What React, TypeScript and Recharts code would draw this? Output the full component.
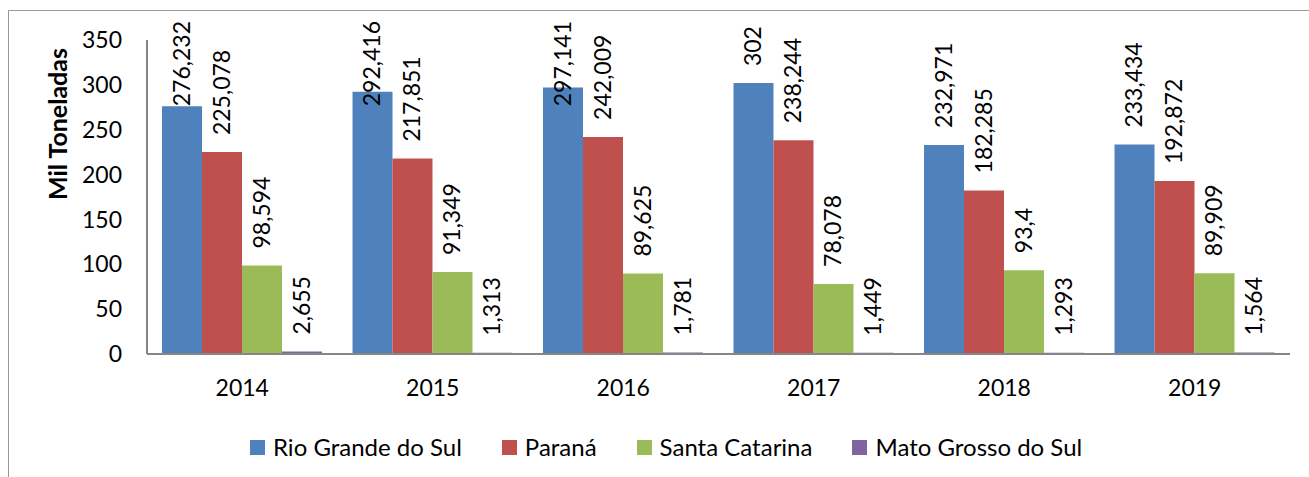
import { BarChart, Bar, XAxis, YAxis, LabelList } from 'recharts'

const YEARS = ['2014', '2015', '2016', '2017', '2018', '2019']
const RIO_GRANDE = [276.232, 292.416, 297.141, 302, 232.971, 233.434]
const PARANA = [225.078, 217.851, 242.009, 238.244, 182.285, 192.872]
const SANTA_CATARINA = [98.594, 91.349, 89.625, 78.078, 93.4, 89.909]
const MATO_GROSSO = [2.655, 1.313, 1.781, 1.449, 1.293, 1.564]
const Y_TICKS = [0, 50, 100, 150, 200, 250, 300, 350]

const SERIES = [
  { key: 'rs', name: 'Rio Grande do Sul', color: '#4F81BD', values: RIO_GRANDE },
  { key: 'pr', name: 'Paraná', color: '#C0504D', values: PARANA },
  { key: 'sc', name: 'Santa Catarina', color: '#9BBB59', values: SANTA_CATARINA },
  { key: 'ms', name: 'Mato Grosso do Sul', color: '#8064A2', values: MATO_GROSSO },
]

const FONT = 'Lato, "Open Sans", sans-serif'
const FONT_SIZE = 23
const PLOT_TOP = 21

const data = YEARS.map((year, i) => {
  const row: Record<string, string | number> = { year }
  SERIES.forEach((s) => {
    row[s.key] = s.values[i]
  })
  return row
})

const fmt = (v: number) => String(v).replace('.', ',')

let ctx: CanvasRenderingContext2D | null = null
function textWidth(text: string) {
  if (!ctx) ctx = document.createElement('canvas').getContext('2d')
  if (!ctx) return text.length * 12
  ctx.font = `${FONT_SIZE}px ${FONT}`
  return ctx.measureText(text).width
}

// rotated label above the bar, pushed down when it would leave the chart
function VerticalLabel(props: any) {
  const { x, y, width, value } = props
  const text = fmt(Number(value))
  const w = textWidth(text)
  const bottom = Math.max(Number(y) - 17, PLOT_TOP + w)
  const cx = Number(x) + Number(width) / 2 + 8
  return (
    <text
      x={cx}
      y={bottom}
      transform={`rotate(-90 ${cx} ${bottom})`}
      textAnchor="start"
      fontSize={FONT_SIZE}
      fontFamily={FONT}
      fill="#000"
    >
      {text}
    </text>
  )
}

function ChartLegend() {
  return (
    <div
      style={{
        position: 'absolute',
        left: 250,
        top: 430,
        display: 'flex',
        alignItems: 'center',
        fontFamily: FONT,
        fontSize: 24,
        lineHeight: '34px',
        color: '#000',
        whiteSpace: 'nowrap',
      }}
    >
      {SERIES.map((s) => (
        <div key={s.key} style={{ display: 'flex', alignItems: 'center', marginRight: 40 }}>
          <span style={{ width: 15, height: 15, background: s.color, marginRight: 8, display: 'inline-block' }} />
          <span>{s.name}</span>
        </div>
      ))}
    </div>
  )
}

export default function App() {
  return (
    <div style={{ position: 'absolute', left: 0, top: 0, width: 1309, height: 477, overflow: 'hidden', background: '#fff' }}>
      <div
        style={{
          position: 'absolute',
          left: 8,
          top: 10,
          width: 1400,
          height: 600,
          borderLeft: '1.5px solid #9a9a9a',
          borderTop: '1.5px solid #9a9a9a',
        }}
      />
      <BarChart
        width={1309}
        height={477}
        data={data}
        margin={{ top: 40, right: 19, bottom: 93, left: 0 }}
        barCategoryGap={15}
        barGap={0}
        style={{ position: 'absolute', left: 0, top: 0 }}
      >
        <XAxis
          dataKey="year"
          height={30}
          axisLine={{ stroke: '#868686', strokeWidth: 2 }}
          tickLine={false}
          tickSize={0}
          tickMargin={26}
          tick={{ fill: '#000', fontSize: FONT_SIZE, fontFamily: FONT }}
        />
        <YAxis
          width={147}
          domain={[0, 350]}
          ticks={Y_TICKS}
          axisLine={{ stroke: '#868686', strokeWidth: 2 }}
          tickLine={false}
          tickSize={0}
          tickMargin={25}
          tick={{ fill: '#000', fontSize: FONT_SIZE, fontFamily: FONT }}
          label={{
            content: () => (
              <text
                x={67}
                y={124}
                transform="rotate(-90 67 124)"
                textAnchor="middle"
                fontSize={25}
                fontWeight="bold"
                fontFamily={FONT}
                fill="#000"
              >
                Mil Toneladas
              </text>
            ),
          }}
        />
        {SERIES.map((s) => (
          <Bar key={s.key} dataKey={s.key} name={s.name} fill={s.color} isAnimationActive={false}>
            <LabelList dataKey={s.key} content={<VerticalLabel />} />
          </Bar>
        ))}
      </BarChart>
      <ChartLegend />
    </div>
  )
}
